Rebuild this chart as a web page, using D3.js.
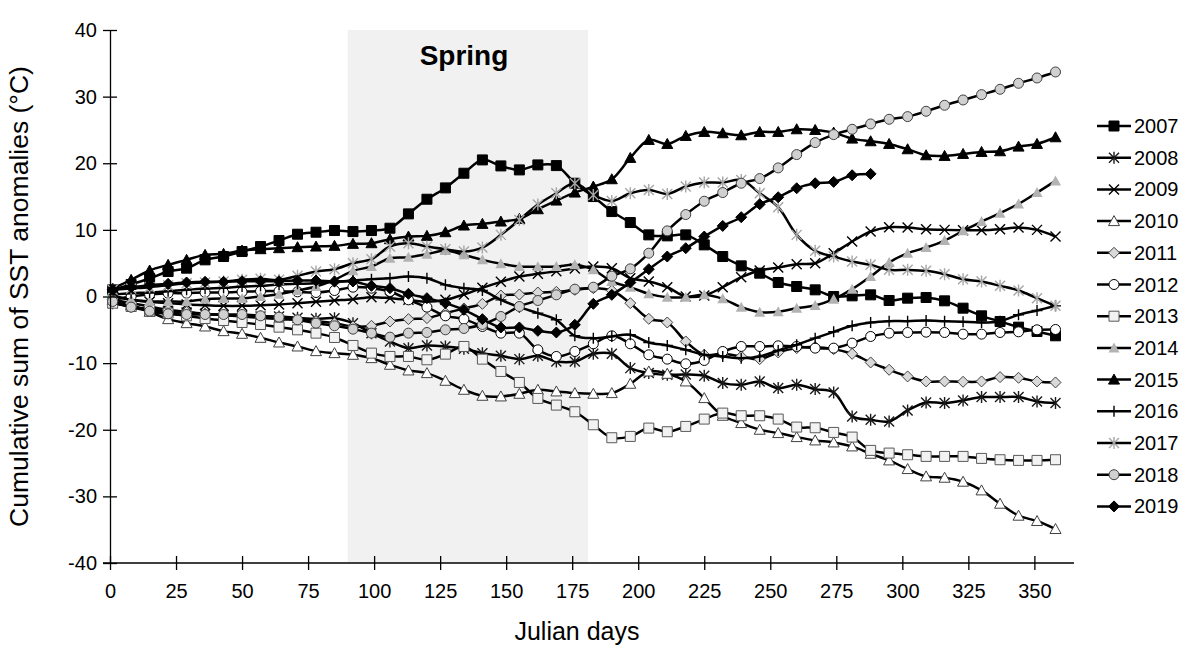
<!DOCTYPE html>
<html>
<head>
<meta charset="utf-8">
<script src="https://d3js.org/d3.v7.min.js"></script>
<style>
  body { margin: 0; background: #fff; }
  svg { font-family: Arial, "Liberation Sans", sans-serif; }
  .axis path, .axis line { stroke: #000; stroke-width: 1.3px; }
  .axis text { font-size: 20px; fill: #000; }
</style>
</head>
<body>
<div id="chart"></div>
<script>
var days = [1, 8, 15, 22, 29, 36, 43, 50, 57, 64, 71, 78, 85, 92, 99, 106, 113, 120, 127, 134,
  141, 148, 155, 162, 169, 176, 183, 190, 197, 204, 211, 218, 225, 232, 239, 246, 253, 260,
  267, 274, 281, 288, 295, 302, 309, 316, 323, 330, 337, 344, 351, 358];

var xTicks = [0, 25, 50, 75, 100, 125, 150, 175, 200, 225, 250, 275, 300, 325, 350];
var yTicks = [-40, -30, -20, -10, 0, 10, 20, 30, 40];
var spring = [90, 181];

var y2007 = [1.0, 1.8, 2.7, 3.75, 4.25, 5.5, 6.0, 6.75, 7.5, 8.4, 9.35, 9.65, 9.9, 9.75, 9.9, 10.25,
  12.4, 14.6, 16.3, 18.5, 20.5, 19.6, 19.0, 19.75, 19.65, 17.0, 15.0, 12.75, 11.1, 9.25, 9.1, 9.25,
  7.75, 6.0, 4.6, 3.5, 2.1, 1.5, 1.0, 0.0, 0.1, 0.25, -0.6, -0.25, -0.15, -0.65, -1.75, -2.9,
  -3.75, -4.6, -5.25, -5.9];
var y2008 = [-1.0, -1.5, -1.9, -2.2, -2.4, -2.6, -2.8, -2.9, -3.0, -3.0, -3.2, -3.35, -3.25, -4.0,
  -5.5, -6.75, -7.75, -7.35, -7.5, -7.85, -8.5, -8.9, -9.4, -8.9, -9.75, -9.75, -8.6, -8.6, -10.75,
  -11.5, -11.75, -11.7, -11.9, -13.0, -13.25, -12.75, -13.75, -13.25, -13.9, -14.4, -18.0, -18.5,
  -18.75, -17.1, -15.9, -16.0, -15.6, -15.1, -15.1, -15.1, -15.75, -16.0];
var y2009 = [0.0, -0.5, -0.8, -1.0, -1.2, -1.3, -1.4, -1.4, -1.3, -1.2, -1.0, -0.8, -0.6, -0.4,
  -0.1, -0.25, -0.5, -0.8, -0.5, 0.3, 1.3, 2.2, 3.0, 3.4, 3.8, 4.2, 4.5, 4.25, 2.75, 2.25, 1.4, 0.0,
  0.15, 1.4, 2.9, 3.9, 4.35, 4.85, 5.0, 6.5, 8.25, 9.75, 10.4, 10.35, 10.1, 10.0, 9.95, 9.95, 10.1,
  10.35, 10.0, 9.0];
var y2010 = [-0.5, -1.3, -2.3, -3.4, -4.0, -4.5, -5.2, -5.6, -6.2, -6.9, -7.5, -8.2, -8.5, -8.75,
  -9.25, -10.25, -11.1, -11.5, -12.65, -14.0, -14.9, -15.0, -14.6, -14.0, -14.25, -14.5, -14.6,
  -14.5, -13.1, -11.25, -11.6, -12.75, -15.25, -17.9, -19.0, -20.0, -20.5, -21.1, -21.6, -21.9,
  -22.5, -23.6, -24.6, -25.9, -27.0, -27.2, -27.8, -29.1, -31.1, -32.9, -33.7, -34.9];
var y2011 = [-0.5, -1.0, -1.5, -2.0, -2.3, -2.6, -2.8, -3.0, -3.2, -3.4, -3.5, -3.7, -4.0, -4.5,
  -4.4, -3.75, -3.4, -3.25, -2.5, -1.8, -1.1, 0.15, 0.3, 0.6, 0.7, 1.0, 1.25, 0.9, -1.0, -3.35,
  -3.9, -6.75, -8.75, -8.6, -9.0, -9.4, -8.4, -7.75, -7.6, -7.9, -8.6, -9.9, -11.0, -12.0, -12.75,
  -12.75, -12.8, -12.75, -12.1, -12.2, -12.75, -12.9];
var y2012 = [-0.5, 0.0, 0.3, 0.5, 0.5, 0.6, 0.6, 0.7, 0.8, 0.8, 0.7, 0.6, 0.9, 1.4, 1.25, 0.75,
  -0.5, -1.6, -2.9, -3.4, -4.5, -5.5, -5.5, -8.0, -9.0, -8.25, -7.1, -5.9, -7.1, -8.75, -9.4, -10.1,
  -9.6, -8.25, -7.5, -7.5, -7.4, -7.5, -7.75, -7.75, -7.0, -6.0, -5.5, -5.4, -5.35, -5.4, -5.65,
  -5.65, -5.4, -5.3, -5.0, -4.95];
var y2013 = [-1.0, -1.5, -2.0, -2.5, -2.9, -3.3, -3.6, -3.9, -4.2, -4.6, -5.0, -5.5, -6.15, -7.35,
  -8.5, -9.0, -9.0, -9.5, -8.65, -7.5, -9.4, -11.25, -12.9, -15.3, -16.3, -17.3, -19.25, -21.2,
  -21.0, -19.75, -20.3, -19.5, -18.4, -17.5, -17.9, -17.9, -18.4, -19.6, -19.7, -20.4, -21.1,
  -23.1, -23.5, -23.75, -24.0, -24.0, -24.0, -24.3, -24.5, -24.6, -24.6, -24.5];
var y2014 = [0.2, -0.5, -0.75, -0.75, -0.75, -0.4, -0.3, -0.3, 0.0, 0.35, 0.9, 1.5, 2.5, 3.85, 4.5,
  5.75, 5.9, 6.35, 6.9, 6.25, 5.5, 4.9, 4.5, 4.45, 4.5, 4.75, 4.0, 2.25, 1.4, 0.4, -0.1, -0.1, 0.25,
  -0.35, -1.6, -2.35, -2.3, -1.75, -1.35, -0.4, 1.1, 3.0, 5.1, 6.5, 7.35, 8.4, 9.85, 11.25, 12.5,
  13.9, 15.6, 17.35];
var y2015 = [1.2, 2.5, 3.9, 4.75, 5.5, 6.25, 6.4, 6.9, 7.1, 7.25, 7.4, 7.5, 7.6, 7.9, 8.0, 8.6, 9.0,
  9.1, 9.65, 10.65, 10.9, 11.25, 11.65, 13.1, 14.4, 15.6, 16.5, 17.6, 20.8, 23.5, 22.9, 24.1, 24.7,
  24.5, 24.2, 24.7, 24.7, 25.1, 25.0, 24.6, 23.7, 23.3, 22.9, 22.1, 21.2, 21.1, 21.4, 21.7, 21.8,
  22.5, 22.9, 23.9];
var y2016 = [0.3, 0.5, 0.6, 0.8, 1.0, 1.2, 1.3, 1.5, 1.6, 1.8, 1.9, 2.0, 2.2, 2.4, 2.6, 2.75, 3.0,
  2.75, 1.75, 1.25, 0.9, -0.5, -1.6, -2.5, -3.5, -5.9, -6.25, -6.0, -5.75, -6.9, -7.35, -8.0, -8.75,
  -9.0, -9.25, -9.0, -8.1, -7.25, -6.25, -5.3, -4.4, -3.9, -3.7, -3.7, -3.6, -3.7, -3.8, -3.9, -3.7,
  -2.75, -2.1, -1.4];
var y2017 = [1.0, 1.2, 1.4, 1.7, 2.0, 2.1, 2.25, 2.5, 2.65, 2.5, 3.1, 3.75, 4.1, 5.0, 5.6, 7.5, 8.0,
  7.5, 7.1, 6.75, 7.35, 9.25, 11.5, 13.8, 15.5, 17.0, 15.25, 14.35, 15.5, 16.0, 15.4, 16.5, 17.1,
  17.1, 17.5, 15.5, 13.4, 9.25, 6.85, 6.0, 5.25, 4.75, 4.0, 4.0, 3.85, 3.35, 2.6, 2.25, 1.6, 0.9,
  -0.25, -1.4];
var y2018 = [-0.75, -1.6, -2.2, -2.6, -2.7, -2.7, -2.7, -2.7, -2.9, -3.1, -3.5, -4.0, -4.4, -4.9,
  -5.5, -6.1, -5.5, -5.4, -5.0, -4.8, -4.2, -3.0, -1.5, -0.6, 0.25, 1.1, 1.4, 3.05, 4.15, 6.5, 9.85,
  12.3, 14.3, 15.6, 17.0, 17.7, 19.3, 21.3, 23.1, 24.3, 25.1, 25.9, 26.6, 27.0, 27.8, 28.7, 29.5,
  30.3, 31.1, 32.0, 32.8, 33.7];
var y2019 = [1.0, 1.4, 1.7, 1.9, 2.1, 2.2, 2.2, 2.3, 2.3, 2.3, 2.4, 2.4, 2.25, 2.25, 1.6, 1.25, 0.4,
  -0.25, -1.0, -2.0, -3.4, -4.65, -4.65, -5.15, -5.4, -4.25, -1.1, 0.25, 2.1, 4.1, 6.0, 7.25, 9.0,
  10.6, 11.9, 13.85, 14.9, 16.25, 17.0, 17.2, 18.2, 18.4];

var years = ['2007', '2008', '2009', '2010', '2011', '2012', '2013', '2014', '2015', '2016', '2017', '2018', '2019'];
var values = [y2007, y2008, y2009, y2010, y2011, y2012, y2013, y2014, y2015, y2016, y2017, y2018, y2019];

// marker look for each year
var markers = {
  '2007': {shape: 'square', fill: '#000', stroke: '#000'},
  '2008': {shape: 'star', fill: 'none', stroke: '#1a1a1a'},
  '2009': {shape: 'cross', fill: 'none', stroke: '#000'},
  '2010': {shape: 'triangle', fill: '#fff', stroke: '#404040'},
  '2011': {shape: 'diamond', fill: '#d9d9d9', stroke: '#404040'},
  '2012': {shape: 'circle', fill: '#fff', stroke: '#000'},
  '2013': {shape: 'square', fill: '#f2f2f2', stroke: '#595959'},
  '2014': {shape: 'triangle', fill: '#b3b3b3', stroke: 'none'},
  '2015': {shape: 'triangle', fill: '#000', stroke: '#000'},
  '2016': {shape: 'plus', fill: 'none', stroke: '#000'},
  '2017': {shape: 'star', fill: 'none', stroke: '#a6a6a6'},
  '2018': {shape: 'circle', fill: '#d0d0d0', stroke: '#404040'},
  '2019': {shape: 'diamond', fill: '#000', stroke: '#000'}
};

function markerPath(shape) {
  var r = 5;
  switch (shape) {
    case 'square': return 'M' + -r + ',' + -r + 'H' + r + 'V' + r + 'H' + -r + 'Z';
    case 'triangle': return 'M0,' + (-r - 0.5) + 'L' + (r + 0.5) + ',' + (r - 0.5) + 'H' + (-r - 0.5) + 'Z';
    case 'diamond': return 'M0,' + (-r - 0.5) + 'L' + (r + 0.5) + ',0L0,' + (r + 0.5) + 'L' + (-r - 0.5) + ',0Z';
    case 'circle': return d3.symbol(d3.symbolCircle, Math.PI * 25)();
    case 'cross': return 'M-5,-5L5,5M-5,5L5,-5';
    case 'plus': return 'M-5.5,0H5.5M0,-5.5V5.5';
    case 'star': return 'M-5,-5L5,5M-5,5L5,-5M0,-6V6';
  }
}

function chartSST(target) {
  var margin = {top: 30, right: 116, bottom: 90, left: 110};
  var width = 1190 - margin.left - margin.right;
  var height = 653 - margin.top - margin.bottom;

  var x = d3.scaleLinear().domain([0, 365]).range([0, width]);
  var y = d3.scaleLinear().domain([-40, 40]).range([height, 0]);

  var svg = d3.select(target).append('svg')
    .attr('width', 1190)
    .attr('height', 653)
    .append('g')
    .attr('transform', 'translate(' + margin.left + ',' + margin.top + ')');

  svg.append('rect')
    .attr('x', x(spring[0]))
    .attr('y', 0)
    .attr('width', x(spring[1]) - x(spring[0]))
    .attr('height', height)
    .attr('fill', '#f1f1f1');

  svg.append('text')
    .attr('x', 354)
    .attr('y', 35)
    .attr('text-anchor', 'middle')
    .style('font-size', '28px')
    .style('font-weight', 'bold')
    .text('Spring');

  var line = d3.line()
    .x(function(d) { return x(d.day); })
    .y(function(d) { return y(d.value); })
    .curve(d3.curveCatmullRom.alpha(0.5));

  years.forEach(function(year, i) {
    var data = values[i].map(function(v, k) { return {day: days[k], value: v}; });
    var m = markers[year];
    var g = svg.append('g').attr('class', 'series y' + year);

    g.append('path')
      .datum(data)
      .attr('fill', 'none')
      .attr('stroke', '#000')
      .attr('stroke-width', 2.5)
      .attr('d', line);

    g.selectAll('path.mark')
      .data(data)
      .enter().append('path')
      .attr('class', 'mark')
      .attr('transform', function(d) { return 'translate(' + x(d.day) + ',' + y(d.value) + ')'; })
      .attr('d', markerPath(m.shape))
      .attr('fill', m.fill)
      .attr('stroke', m.stroke)
      .attr('stroke-width', m.fill === 'none' ? 1.4 : 1);
  });

  var xAxis = d3.axisBottom(x)
    .tickValues(xTicks)
    .tickFormat(function(d) { return String(d); })
    .tickSize(0)
    .tickPadding(21);

  var yAxis = d3.axisLeft(y)
    .tickValues(yTicks)
    .tickFormat(function(d) { return String(d); })
    .tickSize(0)
    .tickPadding(13);

  var gx = svg.append('g')
    .attr('class', 'x axis')
    .attr('transform', 'translate(0,' + height + ')')
    .call(xAxis);
  gx.select('.domain').attr('d', 'M-7,0H' + width);
  gx.selectAll('.tick line').attr('y1', -7).attr('y2', 7);

  var gy = svg.append('g')
    .attr('class', 'y axis')
    .call(yAxis);
  gy.selectAll('.tick line').attr('x1', -7).attr('x2', 7);

  svg.append('text')
    .attr('x', 467)
    .attr('y', height + 77)
    .attr('text-anchor', 'middle')
    .style('font-size', '25px')
    .text('Julian days');

  svg.append('text')
    .attr('transform', 'translate(' + (-82) + ',' + (height / 2) + ') rotate(-90)')
    .attr('text-anchor', 'middle')
    .style('font-size', '26.5px')
    .text('Cumulative sum of SST anomalies (°C)');

  // legend
  var legend = svg.append('g')
    .attr('transform', 'translate(' + (width + 23) + ',96)');

  years.forEach(function(year, i) {
    var m = markers[year];
    var row = legend.append('g').attr('transform', 'translate(0,' + (i * 31.7) + ')');
    row.append('line')
      .attr('x1', 0).attr('x2', 34)
      .attr('stroke', '#000')
      .attr('stroke-width', 2.5);
    row.append('path')
      .attr('transform', 'translate(17,0)')
      .attr('d', markerPath(m.shape))
      .attr('fill', m.fill)
      .attr('stroke', m.stroke)
      .attr('stroke-width', m.fill === 'none' ? 1.4 : 1);
    row.append('text')
      .attr('x', 37)
      .attr('dy', '0.35em')
      .style('font-size', '20px')
      .text(year);
  });
}

chartSST('#chart');
</script>
</body>
</html>
